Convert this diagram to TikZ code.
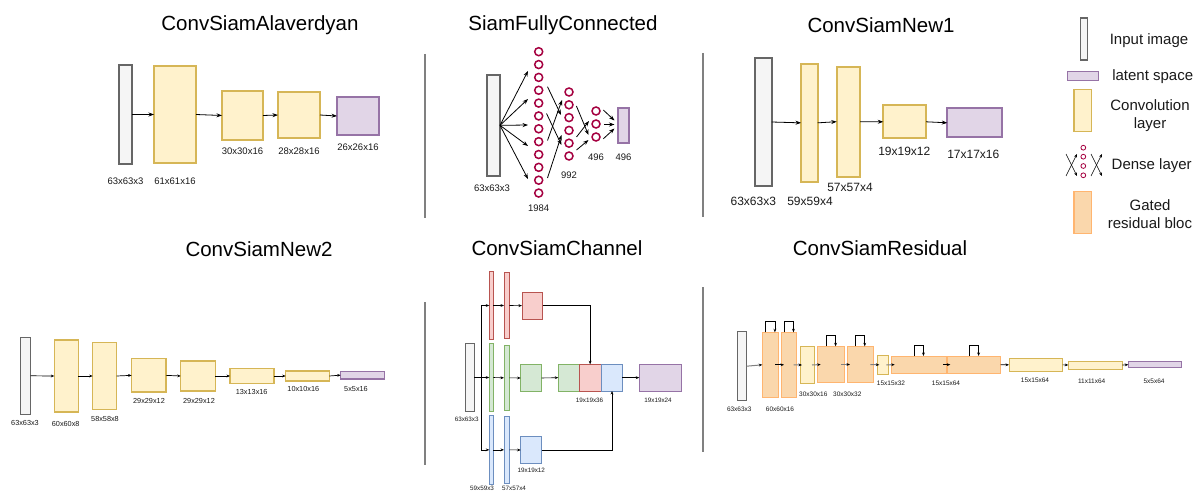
\documentclass[tikz,border=0pt]{standalone}
\usepackage{fontspec}
\setmainfont{Liberation Sans}
\usetikzlibrary{arrows.meta}

\definecolor{inF}{HTML}{F5F5F5}
\definecolor{inD}{HTML}{666666}
\definecolor{convF}{HTML}{FFF2CC}
\definecolor{convD}{HTML}{D6B656}
\definecolor{latF}{HTML}{E1D5E7}
\definecolor{latD}{HTML}{9673A6}
\definecolor{resF}{HTML}{FAD7AC}
\definecolor{resD}{HTML}{FFB570}
\definecolor{redF}{HTML}{F8CECC}
\definecolor{redD}{HTML}{B85450}
\definecolor{grnF}{HTML}{D5E8D4}
\definecolor{grnD}{HTML}{82B366}
\definecolor{bluF}{HTML}{DAE8FC}
\definecolor{bluD}{HTML}{6C8EBF}
\definecolor{neur}{HTML}{A50040}
\definecolor{sepC}{HTML}{808080}
\definecolor{txt}{HTML}{1A1A1A}

% a rectangular layer given by its corners (x1,y1) and (x2,y2)
\newcommand\layerbox[6]{\node[#2, anchor=north west, inner sep=0pt, outer sep=0pt,
  minimum width={#5-#3}, minimum height={#6-#4}] (#1) at (#3,#4) {};}

\tikzset{
  inbox/.style={draw=inD, fill=inF},
  conv/.style={draw=convD, fill=convF},
  lat/.style={draw=latD, fill=latF},
  res/.style={draw=resD, fill=resF},
  redb/.style={draw=redD, fill=redF},
  grnb/.style={draw=grnD, fill=grnF},
  blub/.style={draw=bluD, fill=bluF},
  thickbox/.style={line width=1.8pt},
  midbox/.style={line width=1.4pt},
  thinbox/.style={line width=1pt},
  neuron/.style={circle, draw=neur, line width=1.5pt, minimum size=8pt, inner sep=0pt},
  arr/.style={-{Stealth[length=5.5pt,width=4pt]}, line width=0.8pt, draw=black},
  sarr/.style={-{Stealth[length=3.5pt,width=2.8pt]}, line width=0.7pt, draw=black},
  garr/.style={-{Stealth[length=3.5pt,width=2.8pt,black]}, line width=1pt, draw=black!50},
  sepline/.style={draw=sepC, line width=1.4pt},
  ttl/.style={text=black, font=\fontsize{20.5}{24}\selectfont},
  lbA/.style={text=txt, font=\fontsize{9.5}{11}\selectfont},
  lbB/.style={text=txt, font=\fontsize{12}{14}\selectfont},
  lbC/.style={text=txt, font=\fontsize{7.3}{9}\selectfont},
  lbD/.style={text=txt, font=\fontsize{6.3}{7.5}\selectfont},
  lbE/.style={text=txt, font=\fontsize{6.5}{8}\selectfont},
  leg/.style={text=txt, font=\fontsize{15}{18}\selectfont, align=center},
}

\begin{document}
\begin{tikzpicture}[x=1pt, y=-1pt]
\fill[white] (0,0) rectangle (1197,492);
\useasboundingbox (0,0) rectangle (1197,492);

% ---------------- titles ----------------
\node[ttl] (t1) at (260,25) {ConvSiamAlaverdyan};
\node[ttl] (t2) at (563,25) {SiamFullyConnected};
\node[ttl] (t3) at (881,25) {ConvSiamNew1};
\node[ttl] (t4) at (259,249) {ConvSiamNew2};
\node[ttl] (t5) at (557,248) {ConvSiamChannel};
\node[ttl] (t6) at (880,248) {ConvSiamResidual};

% ---------------- separators ----------------
\draw[sepline] (425,54) -- (425,218);
\draw[sepline] (703,53) -- (703,217);
\draw[sepline] (425,302) -- (425,465);
\draw[sepline] (703,287) -- (703,452);

% ---------------- ConvSiamAlaverdyan ----------------
\layerbox{a0}{inbox,thickbox}{119}{65}{132}{164}
\layerbox{a1}{conv,thickbox}{154}{66}{196}{163}
\layerbox{a2}{conv,thickbox}{222}{91}{263}{140}
\layerbox{a3}{conv,thickbox}{278}{92}{320}{138}
\layerbox{a4}{lat,thickbox}{337}{97}{379}{135}
\draw[arr] (a0.east) -- (a1.west);
\draw[arr] (a1.east) -- (a2.west);
\draw[arr] (a2.east) -- (a3.west);
\draw[arr] (a3.east) -- (a4.west);
\node[lbA] (la0) at (125.5,181) {63x63x3};
\node[lbA] (la1) at (175,181) {61x61x16};
\node[lbA] (la2) at (242.5,151) {30x30x16};
\node[lbA] (la3) at (299,151) {28x28x16};
\node[lbA] (la4) at (358,147) {26x26x16};

% ---------------- SiamFullyConnected ----------------
\layerbox{f0}{inbox,thickbox}{486.7}{74.7}{500}{176}
\layerbox{f4}{lat,thickbox}{617.7}{107.7}{629.3}{143.3}
\foreach \k in {0,...,11} \node[neuron] (n1-\k) at (538.7,51.7+12.85*\k) {};
\foreach \k in {0,...,5}  \node[neuron] (n2-\k) at (569,92+12.8*\k) {};
\foreach \k in {0,...,2}  \node[neuron] (n3-\k) at (596,111+13*\k) {};
% fan-out from the input
\foreach \i/\yy in {1/71,2/99,3/125,4/146,5/179} {
  \coordinate (fo\i) at (528,\yy);
  \draw[arr] (f0.east) -- (fo\i);
}
% first dense block
\coordinate (ca1) at (547.5,86.7);  \coordinate (cb1) at (561,115);
\coordinate (ca2) at (546.5,113.5); \coordinate (cb2) at (561.5,145);
\coordinate (ca3) at (547.5,140.5); \coordinate (cb3) at (562,100);
\coordinate (ca4) at (547.5,178);   \coordinate (cb4) at (561.5,135);
\foreach \i in {1,...,4} \draw[arr] (ca\i) -- (cb\i);
% second dense block
\coordinate (da1) at (576.4,106);   \coordinate (db1) at (588.5,135);
\coordinate (da2) at (576.5,137);   \coordinate (db2) at (589,121);
\coordinate (da3) at (576.5,150);   \coordinate (db3) at (588.5,140);
\foreach \i in {1,...,3} \draw[arr] (da\i) -- (db\i);
% into the latent vector
\coordinate (ea1) at (603.3,110);   \coordinate (eb1) at (614.5,120.5);
\coordinate (ea2) at (604,124.5);   \coordinate (eb2) at (614.5,124.5);
\coordinate (ea3) at (603.3,138.8); \coordinate (eb3) at (614.5,128.5);
\foreach \i in {1,...,3} \draw[arr] (ea\i) -- (eb\i);
\node[lbA] (lf0) at (492,188) {63x63x3};
\node[lbA] (lf1) at (538.7,208) {1984};
\node[lbA] (lf2) at (569,175) {992};
\node[lbA] (lf3) at (596,157) {496};
\node[lbA] (lf4) at (623.5,157) {496};

% ---------------- ConvSiamNew1 ----------------
\layerbox{b0}{inbox,thickbox}{755}{58.3}{771.7}{185.7}
\layerbox{b1}{conv,thickbox}{801}{64}{817.7}{181.7}
\layerbox{b2}{conv,thickbox}{836.7}{66.7}{860}{176.7}
\layerbox{b3}{conv,thickbox}{883.3}{105.3}{926}{138.3}
\layerbox{b4}{lat,thickbox}{947.3}{108.3}{1002.3}{137.3}
\draw[arr] (b0.east) -- (b1.west);
\draw[arr] (b1.east) -- (b2.west);
\draw[arr] (b2.east) -- (b3.west);
\draw[arr] (b3.east) -- (b4.west);
\node[lbB] (lb0) at (753.3,201) {63x63x3};
\node[lbB] (lb1) at (810,201) {59x59x4};
\node[lbB] (lb2) at (850,187.7) {57x57x4};
\node[lbB] (lb3) at (904.3,151.7) {19x19x12};
\node[lbB] (lb4) at (973.3,154.3) {17x17x16};

% ---------------- legend ----------------
\layerbox{g0}{inbox,midbox}{1080.7}{18}{1087.3}{60}
\layerbox{g1}{lat,midbox}{1067.3}{71.7}{1098.7}{80.7}
\layerbox{g2}{conv,midbox}{1074}{89.3}{1091.7}{131.7}
\layerbox{g4}{res,midbox}{1074}{191.7}{1091.7}{233.3}
\foreach \k/\yy in {0/147.7,1/156.7,2/166,3/175.3}
  \node[circle, draw=neur, line width=0.8pt, minimum size=4.8pt, inner sep=0pt] (gn\k) at (1083.3,\yy) {};
\coordinate (gx1) at (1066,154);   \coordinate (gx2) at (1077,176);
\coordinate (gx3) at (1066,176);   \coordinate (gx4) at (1077,154);
\coordinate (gx5) at (1091,154);   \coordinate (gx6) at (1102,176);
\coordinate (gx7) at (1091,176);   \coordinate (gx8) at (1102,154);
\draw[sarr, line width=0.5pt] (gx1) -- (gx2);
\draw[sarr, line width=0.5pt] (gx3) -- (gx4);
\draw[sarr, line width=0.5pt] (gx5) -- (gx6);
\draw[sarr, line width=0.5pt] (gx7) -- (gx8);
\node[leg] (lg0) at (1149,41) {Input image};
\node[leg] (lg1) at (1152.7,76.7) {latent space};
\node[leg] (lg2) at (1150,116) {Convolution\\layer};
\node[leg] (lg3) at (1151.7,165.7) {Dense layer};
\node[leg] (lg4) at (1150,214) {Gated\\residual bloc};

% ---------------- ConvSiamNew2 ----------------
\layerbox{c0}{inbox,midbox}{20.7}{337.3}{30.7}{414.3}
\layerbox{c1}{conv,midbox}{54.3}{340}{78.3}{412}
\layerbox{c2}{conv,midbox}{92.7}{342.7}{116.7}{409.3}
\layerbox{c3}{conv,midbox}{131.7}{358.7}{166}{392}
\layerbox{c4}{conv,midbox}{180.7}{361}{215.3}{391}
\layerbox{c5}{conv,midbox}{230}{368.7}{274}{383.3}
\layerbox{c6}{conv,midbox}{285.7}{371}{329.3}{381}
\layerbox{c7}{lat,midbox}{340.7}{371.3}{384.3}{379}
\draw[sarr] (c0.east) -- (c1.west);
\draw[sarr] (c1.east) -- (c2.west);
\draw[sarr] (c2.east) -- (c3.west);
\draw[sarr] (c3.east) -- (c4.west);
\draw[sarr] (c4.east) -- (c5.west);
\draw[sarr] (c5.east) -- (c6.west);
\draw[sarr] (c6.east) -- (c7.west);
\node[lbC] (lc0) at (25,423.3) {63x63x3};
\node[lbC] (lc1) at (65.7,424) {60x60x8};
\node[lbC] (lc2) at (105,419) {58x58x8};
\node[lbC] (lc3) at (149,401) {29x29x12};
\node[lbC] (lc4) at (199,401) {29x29x12};
\node[lbC] (lc5) at (251.7,391.7) {13x13x16};
\node[lbC] (lc6) at (303.3,389.3) {10x10x16};
\node[lbC] (lc7) at (356,389.3) {5x5x16};

% ---------------- ConvSiamChannel ----------------
\layerbox{h0}{inbox,thinbox}{465}{343.3}{474}{411.7}
\layerbox{r1}{redb,thinbox}{489.3}{271.7}{493.3}{339.3}
\layerbox{r2}{redb,thinbox}{504}{272.7}{509.3}{338.3}
\layerbox{r3}{redb,thinbox}{522}{292}{542.7}{319.3}
\layerbox{e1}{grnb,thinbox}{489.3}{343.3}{493.3}{411.7}
\layerbox{e2}{grnb,thinbox}{504}{345}{509.3}{410.7}
\layerbox{e3}{grnb,thinbox}{520.7}{364.3}{541.7}{391.7}
\layerbox{u1}{blub,thinbox}{489.3}{415.7}{493.3}{484}
\layerbox{u2}{blub,thinbox}{504}{416.7}{509.3}{483}
\layerbox{u3}{blub,thinbox}{520.7}{436.7}{541.7}{463.3}
\layerbox{kg}{grnb,thinbox}{558.3}{364.3}{579.3}{391}
\layerbox{kr}{redb,thinbox}{579.3}{364.3}{601}{391}
\layerbox{kb}{blub,thinbox}{601.7}{364.3}{622.3}{391}
\layerbox{h9}{lat,thinbox}{639.3}{364.3}{681.7}{391}
\coordinate (br) at (481.3,377.5);
\draw[sarr, line width=0.6pt] (h0.east) -- (e1.west);
\draw[sarr, line width=0.6pt] (br) |- (r1.west);
\draw[sarr, line width=0.6pt] (br) |- (u1.west);
\draw[sarr, line width=0.6pt] (r1.east) -- (r2.west);
\draw[sarr, line width=0.6pt] (r2.east) -- (r3.west);
\draw[sarr, line width=0.6pt] (e1.east) -- (e2.west);
\draw[sarr, line width=0.6pt] (e2.east) -- (e3.west);
\draw[sarr, line width=0.6pt] (u1.east) -- (u2.west);
\draw[sarr, line width=0.6pt] (u2.east) -- (u3.west);
\draw[sarr, line width=0.6pt] (e3.east) -- (kg.west);
\draw[sarr, line width=0.6pt] (r3.east) -| (kr.north);
\draw[sarr, line width=0.6pt] (u3.east) -| (kb.south);
\draw[sarr, line width=0.6pt] (kb.east) -- (h9.west);
\node[lbD] (lh0) at (466.7,419.3) {63x63x3};
\node[lbD] (lh1) at (589.5,400) {19x19x36};
\node[lbD] (lh2) at (658,400) {19x19x24};
\node[lbD] (lh3) at (531.3,470.7) {19x19x12};
\node[lbD] (lh4) at (482,488) {59x59x3};
\node[lbD] (lh5) at (514,488) {57x57x4};

% ---------------- ConvSiamResidual ----------------
\layerbox{s0}{inbox,thinbox}{737.3}{331.7}{746.7}{400.7}
\layerbox{s1}{res,thinbox}{762.3}{332.3}{778.3}{397.3}
\layerbox{s2}{res,thinbox}{781}{332.3}{796.7}{397.3}
\layerbox{s3}{conv,thinbox}{800}{346.7}{814}{383.3}
\layerbox{s4}{res,thinbox}{817.7}{346.3}{844.3}{382.7}
\layerbox{s5}{res,thinbox}{847}{346.3}{873.3}{382.7}
\layerbox{s6}{conv,thinbox}{877.3}{355.7}{888.3}{374}
\layerbox{s7}{res,thinbox}{891.7}{356}{946}{373.3}
\layerbox{s8}{res,thinbox}{947.3}{356}{1000.7}{373.3}
\layerbox{s9}{conv,thinbox}{1009}{358.7}{1062.7}{371}
\layerbox{s10}{conv,thinbox}{1068.3}{361}{1122.3}{369}
\layerbox{s11}{lat,thinbox}{1128.3}{361.7}{1181.7}{367.7}
% main path
\draw[garr] (s0.east) -- (s1.west);
\draw[sarr, line width=0.7pt] ([xshift=-3pt]s1.east) -- ([xshift=3pt]s2.west);
\draw[garr] ([xshift=-3pt]s2.east) -- ([xshift=2pt]s3.west);
\draw[garr] ([xshift=-2pt]s3.east) -- ([xshift=3pt]s4.west);
\draw[garr] ([xshift=-3pt]s4.east) -- ([xshift=3pt]s5.west);
\draw[garr] ([xshift=-3pt]s5.east) -- ([xshift=2pt]s6.west);
\draw[garr] ([xshift=-2pt]s6.east) -- ([xshift=3pt]s7.west);
\draw[sarr, line width=0.7pt] ([xshift=-3pt]s7.east) -- ([xshift=3pt]s8.west);
\draw[sarr, line width=0.7pt] (s8.east) -- (s9.west);
\draw[sarr, line width=0.7pt] (s9.east) -- (s10.west);
\draw[sarr, line width=0.7pt] (s10.east) -- (s11.west);
% gated skip loops
\foreach \b in {s1,s2,s4,s5,s7,s8}
  \draw[sarr, line width=0.7pt] ([xshift=-4.6pt]\b.north) -- ++(0,-10.5) -| ([xshift=4.6pt]\b.north);
\node[lbE] (ls0) at (739.3,409.3) {63x63x3};
\node[lbE] (ls1) at (780,409.3) {60x60x16};
\node[lbE] (ls2) at (813.3,394.3) {30x30x16};
\node[lbE] (ls3) at (847.3,394.3) {30x30x32};
\node[lbE] (ls4) at (891,383.3) {15x15x32};
\node[lbE] (ls5) at (946,383.3) {15x15x64};
\node[lbE] (ls6) at (1035,380.7) {15x15x64};
\node[lbE] (ls7) at (1091.7,381.3) {11x11x64};
\node[lbE] (ls8) at (1154,381.3) {5x5x64};
\end{tikzpicture}
\end{document}
